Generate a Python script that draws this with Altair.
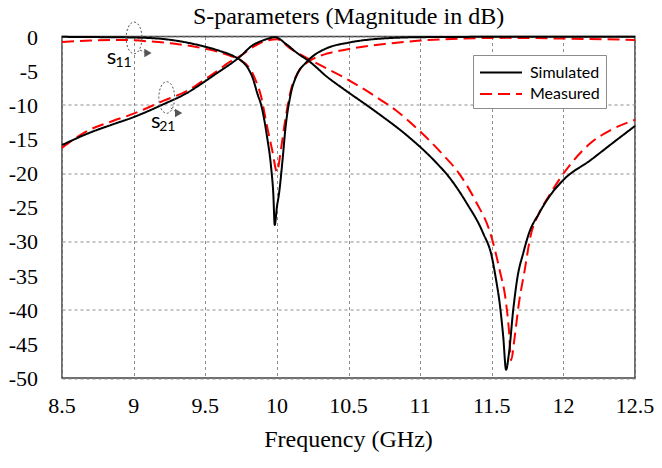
import altair as alt
import pandas as pd

# ---- data ----
title_text = ["S-parameters (Magnitude in dB)"]
x_title_text = ["Frequency (GHz)"]

sim_s11_f = [8.5, 8.8, 9.0, 9.2, 9.35, 9.5, 9.6, 9.7, 9.76, 9.8, 9.83, 9.866, 9.89, 9.93, 9.96, 9.975, 9.985,
             10.0, 10.015, 10.04, 10.06, 10.095, 10.14, 10.2, 10.25, 10.35, 10.5, 10.7, 11.0,
             11.5, 12.0, 12.5]
sim_s11_v = [-0.05, -0.1, -0.15, -0.35, -0.8, -1.5, -2.1, -2.9, -3.7, -4.7, -6.0, -8.5, -10.0, -14.5, -19.2, -23.0, -27.6,
             -25.0, -23.0, -18.0, -13.4, -8.6, -5.6, -3.9, -2.9, -1.7, -0.9, -0.35, -0.1,
             -0.05, -0.05, -0.05]

meas_s11_f = [8.5, 8.7, 8.9, 9.1, 9.26, 9.4, 9.5, 9.6, 9.67, 9.74, 9.8, 9.85, 9.89, 9.93, 9.97, 10.0,
              10.03, 10.06, 10.095, 10.15, 10.2, 10.26, 10.35, 10.46, 10.6, 10.75, 11.0,
              11.3, 11.6, 12.0, 12.5]
meas_s11_v = [-0.8, -0.6, -0.5, -0.7, -1.0, -1.4, -1.8, -2.3, -2.8, -3.4, -4.4, -6.3, -8.8, -13.0, -16.9, -19.8,
              -16.3, -12.0, -8.1, -5.2, -4.0, -3.2, -2.5, -2.0, -1.5, -1.1, -0.6,
              -0.3, -0.2, -0.3, -0.5]

sim_s21_f = [8.5, 8.68, 8.85, 9.0, 9.21, 9.37, 9.51, 9.6, 9.65, 9.74, 9.83, 9.9, 9.95, 9.985, 10.07, 10.14,
             10.23, 10.35, 10.46, 10.69, 10.92, 11.1, 11.21, 11.325, 11.44, 11.5, 11.53, 11.555, 11.58, 11.6,
             11.62, 11.65, 11.68, 11.72, 11.76, 11.83, 11.9, 12.0, 12.19, 12.35, 12.5]
sim_s21_v = [-15.9, -14.2, -12.9, -11.8, -9.9, -8.3, -6.4, -5.1, -4.4, -3.0, -1.3, -0.6, -0.25, -0.1, -1.2, -2.4,
             -3.7, -5.9, -7.6, -11.0, -14.7, -18.2, -20.8, -24.4, -28.8, -32.2, -35.6, -39.0, -43.9, -48.8,
             -46.4, -40.0, -35.2, -31.7, -28.8, -25.9, -23.5, -21.0, -18.1, -15.5, -13.1]

meas_s21_f = [8.5, 8.68, 8.85, 9.0, 9.21, 9.37, 9.51, 9.6, 9.65, 9.74, 9.87, 9.95, 10.0, 10.09, 10.23, 10.46,
              10.69, 10.83, 10.99, 11.15, 11.27, 11.39, 11.49, 11.555, 11.6, 11.62, 11.635, 11.66, 11.69, 11.73,
              11.77, 11.83, 11.9, 12.05, 12.19, 12.33, 12.5]
meas_s21_v = [-16.3, -13.8, -12.4, -11.3, -9.4, -8.0, -6.1, -4.8, -4.0, -2.9, -1.1, -0.5, -0.4, -1.7, -3.4, -5.9,
              -8.8, -10.8, -13.7, -17.1, -20.0, -24.2, -28.8, -34.2, -39.0, -43.0, -47.4, -44.0, -39.0, -34.2,
              -29.3, -25.9, -23.3, -18.7, -15.6, -13.7, -12.2]

series_names = ["Simulated", "Measured"]
x_ticks = [8.5, 9, 9.5, 10, 10.5, 11, 11.5, 12, 12.5]
y_ticks = [0, -5, -10, -15, -20, -25, -30, -35, -40, -45, -50]

# annotation positions (data units)
ell_x = [9.003, 9.231]
ell_y = [-0.2, -8.93]
arr_x = [9.045, 9.259]
arr_y = [-2.0, -10.47]
arr_x2 = [9.09, 9.3]
arr_y2 = [-2.4, -11.1]
head_x = [9.1, 9.314]
head_y = [-2.42, -11.2]
lab_main = ["s", "s"]
lab_main_x = [8.845, 9.155]
lab_main_y = [-3.0, -12.3]
lab_sub = ["11", "21"]
lab_sub_x = [8.93, 9.235]
lab_sub_y = [-3.9, -13.2]

rows = []
for f, v in zip(meas_s11_f, meas_s11_v):
    rows.append({"f": f, "v": v, "series": "Measured", "param": "S11"})
for f, v in zip(meas_s21_f, meas_s21_v):
    rows.append({"f": f, "v": v, "series": "Measured", "param": "S21"})
for f, v in zip(sim_s11_f, sim_s11_v):
    rows.append({"f": f, "v": v, "series": "Simulated", "param": "S11"})
for f, v in zip(sim_s21_f, sim_s21_v):
    rows.append({"f": f, "v": v, "series": "Simulated", "param": "S21"})
df = pd.DataFrame(rows)

ann = pd.DataFrame({
    "ex": ell_x, "ey": ell_y, "ax": arr_x, "ay": arr_y, "ax2": arr_x2, "ay2": arr_y2,
    "hx": head_x, "hy": head_y, "t": lab_main, "tx": lab_main_x, "ty": lab_main_y,
    "s": lab_sub, "sx": lab_sub_x, "sy": lab_sub_y,
})
xlab = pd.DataFrame({"xv": x_ticks, "xt": [f"{v:g}" for v in x_ticks]})
ylab = pd.DataFrame({"yv": y_ticks, "yt": [f"{v:g}" for v in y_ticks]})

serif = "Liberation Serif"
sans = "Lato"
W = 573
H = 341.5

xscale = alt.Scale(domain=[8.5, 12.5], nice=False, zero=False)
yscale = alt.Scale(domain=[-50, 0], nice=False, zero=False)

lines = alt.Chart(df).mark_line(strokeWidth=2, interpolate="monotone").encode(
    x=alt.X("f:Q", scale=xscale, axis=alt.Axis(values=x_ticks, title=None, labels=False)),
    y=alt.Y("v:Q", scale=yscale, axis=alt.Axis(values=y_ticks, title=None, labels=False)),
    color=alt.Color("series:N", scale=alt.Scale(domain=series_names, range=["black", "#ff0000"]),
                    legend=alt.Legend(title=None, orient="none", legendX=411, legendY=18.5,
                                      symbolType="M -1,0 L 3,0", symbolStrokeWidth=2, symbolSize=441,
                                      labelFont=sans, labelFontSize=16, labelColor="black",
                                      strokeColor="#8c8c8c", fillColor="white", padding=6,
                                      rowPadding=1.5, labelOffset=28)),
    strokeDash=alt.StrokeDash("series:N", scale=alt.Scale(domain=series_names, range=[[1, 0], [12, 6]]),
                              legend=alt.Legend(title=None)),
    detail="param:N",
)

ellipse_path = "M 0,-1 A 0.5,1 0 1,1 0,1 A 0.5,1 0 1,1 0,-1 Z"
ellipses = alt.Chart(ann).mark_point(shape=ellipse_path, size=1000, filled=False, stroke="#555555",
                                     strokeWidth=1, strokeDash=[2, 2], opacity=1).encode(
    x=alt.X("ex:Q", scale=xscale), y=alt.Y("ey:Q", scale=yscale))
arrows = alt.Chart(ann).mark_rule(stroke="#555555", strokeWidth=1, strokeDash=[2, 2]).encode(
    x=alt.X("ax:Q", scale=xscale), y=alt.Y("ay:Q", scale=yscale), x2="ax2:Q", y2="ay2:Q")
heads = alt.Chart(ann).mark_point(shape="triangle-right", size=70, filled=True, fill="#555555",
                                  opacity=1, strokeWidth=0).encode(
    x=alt.X("hx:Q", scale=xscale), y=alt.Y("hy:Q", scale=yscale))
main_txt = alt.Chart(ann).mark_text(font=sans, fontSize=22, color="black", align="center",
                                    baseline="middle").encode(
    x=alt.X("tx:Q", scale=xscale), y=alt.Y("ty:Q", scale=yscale), text="t:N")
sub_txt = alt.Chart(ann).mark_text(font=sans, fontSize=14, color="black", align="center",
                                   baseline="middle").encode(
    x=alt.X("sx:Q", scale=xscale), y=alt.Y("sy:Q", scale=yscale), text="s:N")

# axis tick labels drawn as text through the same scales
x_labels = alt.Chart(xlab).mark_text(font=serif, fontSize=22, color="black", align="center",
                                     baseline="middle").encode(
    x=alt.X("xv:Q", scale=xscale), y=alt.value(H + 28), text="xt:N")
y_labels = alt.Chart(ylab).mark_text(font=serif, fontSize=22, color="black", align="right",
                                     baseline="middle", dy=1).encode(
    x=alt.value(-24), y=alt.Y("yv:Q", scale=yscale), text="yt:N")
x_title = alt.Chart(pd.DataFrame({"t": x_title_text})).mark_text(
    font=serif, fontSize=24, color="black", align="center", baseline="middle").encode(
    x=alt.value(W / 2), y=alt.value(H + 62), text="t:N")
title_mark = alt.Chart(pd.DataFrame({"title": title_text})).mark_text(
    font=serif, fontSize=24, color="black", align="center", baseline="middle").encode(
    x=alt.value(W / 2), y=alt.value(-19.5), text="title:N")

chart = alt.layer(lines, ellipses, arrows, heads, main_txt, sub_txt,
                  x_labels, y_labels, x_title, title_mark).properties(
    width=W, height=H,
    autosize=alt.AutoSizeParams(type="none"),
    padding={"left": 54, "top": 28.5, "right": 19, "bottom": 82},
    background="white",
).configure_view(stroke="#404040", strokeWidth=1.5).configure_axis(
    ticks=False, domain=False, grid=True, gridDash=[3, 3], gridColor="#8c8c8c",
)

chart.save("out.html", embed_options={"renderer": "svg", "actions": False})
